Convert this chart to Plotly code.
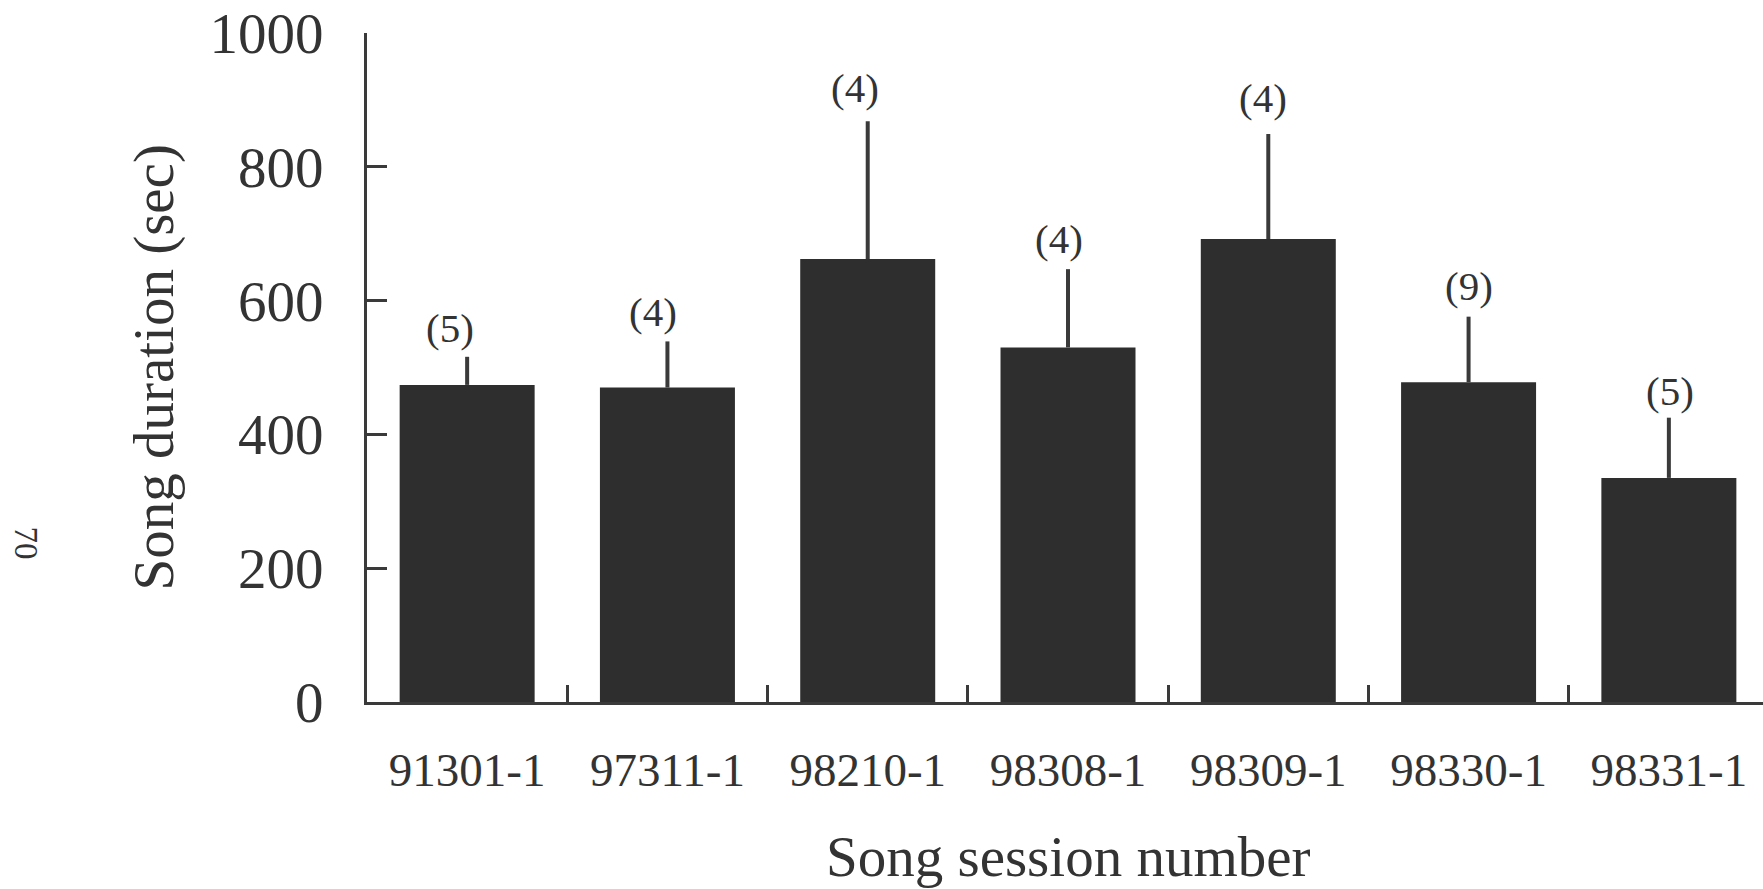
import plotly.graph_objects as go

sessions = ["91301-1", "97311-1", "98210-1", "98308-1", "98309-1", "98330-1", "98331-1"]
mean_duration = [474, 470, 662, 530, 692, 478, 335]
upper_error = [42, 69, 206, 117, 157, 98, 90]
n_songs = ["(5)", "(4)", "(4)", "(4)", "(4)", "(9)", "(5)"]

# label style offsets (pixels)
label_xshift = [-17, -14, -13, -9, -5, 0, 1]
label_yshift = [4, 4, 8, 5, 11, 6, 2]

FONT = "Liberation Serif, Times New Roman, serif"
INK = "#333333"
LINE = "#3a3a3a"

fig = go.Figure()
fig.add_trace(go.Bar(
    x=sessions,
    y=mean_duration,
    marker=dict(color="#2e2e2e", line=dict(width=0)),
    width=0.674,
    error_y=dict(type="data", symmetric=False, array=upper_error,
                 arrayminus=[0] * len(sessions), color=LINE, thickness=4, width=0),
    showlegend=False,
))

annotations = []
for i, (lab, m, e) in enumerate(zip(n_songs, mean_duration, upper_error)):
    annotations.append(dict(
        x=sessions[i], y=m + e, xref="x", yref="y", text=lab, showarrow=False,
        xanchor="center", yanchor="bottom",
        xshift=label_xshift[i], yshift=label_yshift[i],
        font=dict(family=FONT, size=41, color=INK),
    ))

annotations.append(dict(
    x=0, y=0.5, xref="paper", yref="paper", text="Song duration (sec)",
    showarrow=False, textangle=-90, xanchor="center", yanchor="middle",
    xshift=-214, font=dict(family=FONT, size=57, color=INK),
))
annotations.append(dict(
    x=0.5, y=0, xref="paper", yref="paper", text="Song session number",
    showarrow=False, xanchor="center", yanchor="middle",
    xshift=3, yshift=-154, font=dict(family=FONT, size=57, color=INK),
))
annotations.append(dict(
    x=0, y=0.5, xref="paper", yref="paper", text="70",
    showarrow=False, textangle=90, xanchor="center", yanchor="middle",
    xshift=-341, yshift=-175, font=dict(family=FONT, size=33, color=INK),
))

fig.update_layout(
    width=1763, height=889,
    margin=dict(l=367, r=0, t=33, b=187, pad=0),
    paper_bgcolor="white", plot_bgcolor="white",
    annotations=annotations,
    xaxis=dict(
        type="category",
        categoryorder="array", categoryarray=sessions,
        range=[-0.5, 6.47],
        tickson="boundaries", ticks="inside", ticklen=17, tickwidth=3, tickcolor=LINE,
        showline=True, linecolor=LINE, linewidth=3,
        showgrid=False, zeroline=False,
        tickfont=dict(family=FONT, size=47, color=INK),
        ticklabelstandoff=25,
    ),
    yaxis=dict(
        range=[0, 1000], tickvals=[0, 200, 400, 600, 800, 1000],
        ticks="inside", ticklen=20, tickwidth=3, tickcolor=LINE,
        showline=True, linecolor=LINE, linewidth=3,
        showgrid=False, zeroline=False,
        tickfont=dict(family=FONT, size=57, color=INK),
        ticklabelstandoff=29,
    ),
)

fig.write_html("out.html")
